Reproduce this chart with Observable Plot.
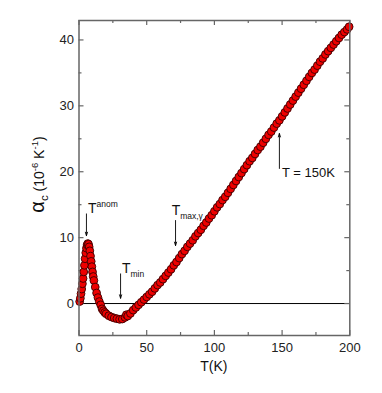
<!DOCTYPE html>
<html>
<head>
<meta charset="utf-8">
<script src="https://cdn.jsdelivr.net/npm/d3@7"></script>
<script src="https://cdn.jsdelivr.net/npm/@observablehq/plot@0.6"></script>
<style>
  html, body { margin: 0; padding: 0; background: #fff; }
  svg text { font-family: "Liberation Sans", Arial, sans-serif; }
</style>
</head>
<body>
<div id="chart"></div>
<script>
// Temperature (K) and thermal expansion alpha_c (10^-6 K^-1)
const temperature = [0.5,1,1.5,2,2.5,3,3.5,4,4.5,5,5.5,6,6.5,7,7.5,8,8.5,9,9.5,10,10.5,11,12,13,14,15,16,17,18,19,20,22,24,26,28,30,32,34,35,36,38,40,42,44,46,48,50,52,54,56,58,60,62,64,66,68,70,72,74,76,78,80,82,84,86,88,90,92,94,96,98,100,102,104,106,108,110,112,114,116,118,120,122,124,126,128,130,132,134,136,138,140,142,144,146,148,150,152,154,156,158,160,162,164,166,168,170,172,174,176,178,180,182,184,186,188,190,192,194,196,198,199.5];
const alphaC = [0.3,0.8,1.5,2.2,3.0,3.8,4.8,5.8,6.8,7.7,8.4,8.9,9.1,9.0,8.6,8.0,7.2,6.4,5.6,4.8,4.1,3.5,2.5,1.6,0.9,0.3,-0.2,-0.8,-1.1,-1.35,-1.55,-1.85,-2.05,-2.2,-2.3,-2.4,-2.35,-2.1,-1.7,-1.9,-1.5,-1.0,-0.6,-0.2,0.2,0.6,1.0,1.4,1.8,2.3,2.8,3.2,3.7,4.2,4.7,5.2,5.8,6.3,6.9,7.5,8.0,8.6,9.1,9.6,10.2,10.7,11.2,11.8,12.3,12.9,13.4,14.0,14.6,15.1,15.7,16.2,16.8,17.4,18.0,18.6,19.2,19.8,20.4,21.0,21.6,22.1,22.7,23.3,23.8,24.4,25.0,25.6,26.1,26.7,27.3,27.8,28.4,29.0,29.6,30.2,30.8,31.4,32.0,32.6,33.2,33.8,34.4,35.0,35.5,36.1,36.7,37.2,37.8,38.3,38.8,39.3,39.8,40.3,40.8,41.2,41.6,42.0];

// Axis ticks
const xMajorTicks = [0, 50, 100, 150, 200];
const xMinorTicks = [25, 75, 125, 175];
const yMajorTicks = [0, 10, 20, 30, 40];
const yMinorTicks = [5, 15, 25, 35];

// Annotation arrows (data units): x, y from, y to
const arrowLabels = ["anom", "min", "maxg", "150K"];
const arrowT = [5.5, 30.7, 71.3, 148];
const arrowFrom = [13.6, 4.5, 12.6, 20.5];
const arrowTo = [10.3, 0.8, 8.8, 25.8];

const data = temperature.map((t, i) => ({T: t, a: alphaC[i]}));
const arrows = arrowLabels.map((k, i) => ({k, x: arrowT[i], y1: arrowFrom[i], y2: arrowTo[i]}));

const W = 382, H = 393;
const mL = 78.5, mR = 32.7, mT = 20, mB = 58;
const innerW = W - mL - mR, innerH = H - mT - mB;
const tickCol = "#666";

const plot = Plot.plot({
  width: W, height: H,
  marginLeft: mL, marginRight: mR, marginTop: mT, marginBottom: mB,
  style: {fontFamily: "Liberation Sans, Arial, sans-serif", fontSize: "13px", background: "#fff", color: "#222"},
  x: {domain: [0, 200], label: null},
  y: {domain: [-4.85, 42.95], label: null},
  marks: [
    Plot.ruleY([0], {stroke: "#000", strokeWidth: 1}),
    // inward ticks
    Plot.ruleX(xMajorTicks, {insetTop: innerH - 5, stroke: tickCol, strokeWidth: 1.2}),
    Plot.ruleX(xMajorTicks, {insetBottom: innerH - 5, stroke: tickCol, strokeWidth: 1.2}),
    Plot.ruleX(xMinorTicks, {insetTop: innerH - 3, stroke: tickCol, strokeWidth: 1.2}),
    Plot.ruleX(xMinorTicks, {insetBottom: innerH - 3, stroke: tickCol, strokeWidth: 1.2}),
    Plot.ruleY(yMajorTicks, {insetRight: innerW - 5, stroke: tickCol, strokeWidth: 1.2}),
    Plot.ruleY(yMajorTicks, {insetLeft: innerW - 5, stroke: tickCol, strokeWidth: 1.2}),
    Plot.ruleY(yMinorTicks, {insetRight: innerW - 3, stroke: tickCol, strokeWidth: 1.2}),
    Plot.ruleY(yMinorTicks, {insetLeft: innerW - 3, stroke: tickCol, strokeWidth: 1.2}),
    Plot.axisX({ticks: xMajorTicks, tickSize: 0, tickPadding: 7, label: null, fill: "#222"}),
    Plot.axisY({ticks: yMajorTicks, tickSize: 0, tickPadding: 5, label: null, fill: "#222"}),
    Plot.dot(data, {x: "T", y: "a", r: 3.9, fill: "#ee0000", stroke: "#3a0000", strokeWidth: 0.9}),
    Plot.arrow(arrows, {x1: "x", x2: "x", y1: "y1", y2: "y2", stroke: "#000", strokeWidth: 0.9, headLength: 6, headAngle: 35}),
    Plot.frame({stroke: tickCol, strokeWidth: 1.5})
  ]
});

const svg = d3.select(plot);
const sx = plot.scale("x"), sy = plot.scale("y");

function addLabel(main, sub, sup, T, a, size) {
  const t = svg.append("text")
    .attr("x", sx.apply(T)).attr("y", sy.apply(a))
    .attr("text-anchor", "start")
    .attr("font-size", size).attr("fill", "#111");
  t.append("tspan").text(main);
  if (sup) t.append("tspan").attr("font-size", 8.5).attr("dy", -6).text(sup);
  if (sub) t.append("tspan").attr("font-size", 8.5).attr("dy", 4).text(sub);
}
addLabel("T", null, "anom", 7, 13.7, 14);
addLabel("T", "min", null, 32.1, 4.6, 14);
addLabel("T", "max,\u03b3", null, 68.8, 13.4, 14);
addLabel("T = 150K", null, null, 150.3, 19.1, 13);

// x-axis title
svg.append("text")
  .attr("x", sx.apply(100)).attr("y", 371)
  .attr("text-anchor", "middle").attr("font-size", 14).attr("fill", "#111")
  .text("T(K)");

// y-axis title
const yl = svg.append("text")
  .attr("transform", `translate(44, ${sy.apply(19.5)}) rotate(-90)`)
  .attr("text-anchor", "middle").attr("font-size", 14).attr("fill", "#111");
yl.append("tspan").attr("font-size", 20).text("\u03b1");
yl.append("tspan").attr("font-size", 11.5).attr("dy", 4).text("c");
yl.append("tspan").attr("dy", -4).text(" (10");
yl.append("tspan").attr("font-size", 9.5).attr("dy", -6).text("-6");
yl.append("tspan").attr("dy", 6).text(" K");
yl.append("tspan").attr("font-size", 9.5).attr("dy", -6).text("-1");
yl.append("tspan").attr("dy", 6).text(")");

document.getElementById("chart").appendChild(plot);
</script>
</body>
</html>
